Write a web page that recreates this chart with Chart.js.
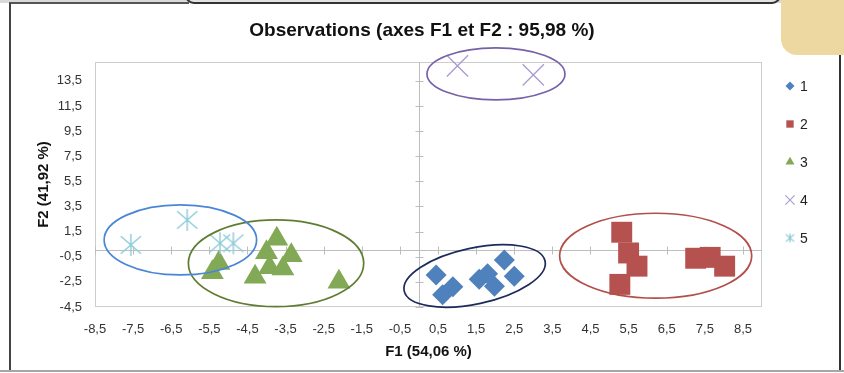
<!DOCTYPE html>
<html>
<head>
<meta charset="utf-8">
<script src="https://cdn.jsdelivr.net/npm/chart.js@4.4.1/dist/chart.umd.min.js"></script>
<style>
  html, body { margin: 0; padding: 0; background: #fff; }
  #wrap { position: relative; width: 844px; height: 373px; overflow: hidden; background: #fff; }
  #c { position: absolute; left: 0; top: 0; }
  .deco { position: absolute; box-sizing: border-box; }
</style>
</head>
<body>
<div id="wrap">
  <canvas id="c" width="844" height="373"></canvas>
  <!-- page furniture around the chart -->
  <div class="deco" style="left:0;top:0;width:790px;height:3px;background:#d9d9d9"></div>
  <div class="deco" style="left:9px;top:2px;width:180px;height:2px;background:#555"></div>
  <div class="deco" style="left:185px;top:-20px;width:596px;height:24px;border:2px solid #333;border-radius:9px;background:#e2e2e2"></div>
  <div class="deco" style="left:9px;top:3px;width:2px;height:368px;background:#444"></div>
  <div class="deco" style="left:781px;top:-16px;width:80px;height:71px;background:#eed8a1;border-radius:16px"></div>
  <div class="deco" style="left:839px;top:55px;width:2px;height:316px;background:#333"></div>
  <div class="deco" style="left:0;top:370px;width:844px;height:2px;background:#a6a6a6"></div>
</div>
<script>
// ---- data -------------------------------------------------------------
const chartTitle = 'Observations (axes F1 et F2 : 95,98 %)';
const xTitle = 'F1 (54,06 %)';
const yTitle = 'F2 (41,92 %)';
const seriesLabels = ['1', '2', '3', '4', '5'];

// factor scores (F1, F2) of the observations in each group
const g1F1 = [0.45, 0.89, 0.62, 1.58, 1.80, 1.98, 2.24, 2.50];
const g1F2 = [-1.95, -2.88, -3.52, -2.30, -1.85, -2.85, -0.75, -2.05];
const g2F1 = [5.32, 5.50, 5.72, 5.27, 7.26, 7.64, 8.02];
const g2F2 = [1.45, -0.20, -1.25, -2.70, -0.62, -0.55, -1.25];
const g3F1 = [-3.73, -4.00, -3.35, -3.92, -3.57, -4.30, -5.25, -5.42, -2.10];
const g3F2 = [0.92, -0.15, -0.40, -1.35, -1.45, -2.10, -1.00, -1.75, -2.50];
const g4F1 = [1.01, 3.00];
const g4F2 = [14.69, 13.97];
const g5F1 = [-7.56, -6.08, -5.22, -4.87];
const g5F2 = [0.44, 2.43, 0.57, 0.57];

// axis ticks
const xTicks = [-8.5, -7.5, -6.5, -5.5, -4.5, -3.5, -2.5, -1.5, -0.5, 0.5, 1.5, 2.5, 3.5, 4.5, 5.5, 6.5, 7.5, 8.5];
const yTicks = [-4.5, -2.5, -0.5, 1.5, 3.5, 5.5, 7.5, 9.5, 11.5, 13.5];

// group envelopes: centre and semi-axes in F1/F2 units, tilt in degrees
const hullCx = [1.46, 6.21, -3.75, 2.02, -6.26];
const hullCy = [-2.03, -0.42, -1.02, 14.05, 0.84];
const hullRx = [1.89, 2.52, 2.30, 1.81, 2.00];
const hullRy = [2.23, 3.38, 3.45, 2.07, 2.79];
const hullTilt = [-12, 0, 0, 0, 0];

// ---- styling ----------------------------------------------------------
const FONT = "'Liberation Sans', Arial, sans-serif";
const fmt = v => String(v).replace('.', ',');

function makeAsterisk(size, color, lw) {
  const c = document.createElement('canvas');
  c.width = size; c.height = size;
  const g = c.getContext('2d');
  const m = size / 2, h = size / 2 - 1, d = h * 0.92;
  g.strokeStyle = color; g.lineWidth = lw; g.lineCap = 'butt';
  g.beginPath();
  g.moveTo(m, m - h); g.lineTo(m, m + h);
  g.moveTo(m - d, m - d * 0.86); g.lineTo(m + d, m + d * 0.86);
  g.moveTo(m + d, m - d * 0.86); g.lineTo(m - d, m + d * 0.86);
  g.stroke();
  return c;
}

const asteriskBig = makeAsterisk(24, '#8ccbd8', 1.4);
const asteriskSmall = makeAsterisk(11, '#7fc3d2', 1.1);

const looks = [
  { pointStyle: 'rectRot', pointRadius: 10.5, backgroundColor: '#4f81bd', borderColor: '#4f81bd', borderWidth: 0 },
  { pointStyle: 'rect', pointRadius: 14.8, backgroundColor: '#b5514f', borderColor: '#b5514f', borderWidth: 0 },
  { pointStyle: 'triangle', pointRadius: 13.2, backgroundColor: '#82a955', borderColor: '#82a955', borderWidth: 0 },
  { pointStyle: 'crossRot', pointRadius: 15, backgroundColor: '#a89bd0', borderColor: '#a89bd0', borderWidth: 1.3 },
  { pointStyle: asteriskBig, pointRadius: 11, backgroundColor: '#8ccbd8', borderColor: '#8ccbd8', borderWidth: 1 }
];
const legendLooks = [
  { pointStyle: 'rectRot', radius: 4.5, color: '#4f81bd', borderWidth: 0 },
  { pointStyle: 'rect', radius: 5.2, color: '#b5514f', borderWidth: 0 },
  { pointStyle: 'triangle', radius: 5.2, color: '#82a955', borderWidth: 0 },
  { pointStyle: 'crossRot', radius: 6.5, color: '#a89bd0', borderWidth: 1.1 },
  { pointStyle: asteriskSmall, radius: 5, color: '#7fc3d2', borderWidth: 1 }
];
const hullColors = ['#1d2a5c', '#b24f4b', '#5f7d32', '#7762a8', '#4a86d6'];

const F1s = [g1F1, g2F1, g3F1, g4F1, g5F1];
const F2s = [g1F2, g2F2, g3F2, g4F2, g5F2];

const datasets = seriesLabels.map((label, i) => Object.assign({
  label,
  data: F1s[i].map((v, k) => ({ x: v, y: F2s[i][k] })),
  showLine: false,
  clip: false,
  order: seriesLabels.length - i
}, looks[i]));

// ---- plugins ----------------------------------------------------------
// plot frame plus the two axes crossing at the origin, with tick marks
const crossAxes = {
  id: 'crossAxes',
  beforeDatasetsDraw(chart) {
    const { ctx, chartArea: a, scales: { x, y } } = chart;
    ctx.save();
    ctx.strokeStyle = '#cdcdcd';
    ctx.lineWidth = 1;
    ctx.strokeRect(a.left + 0.5, a.top + 0.5, a.width - 1, a.height - 1);
    const x0 = Math.round(x.getPixelForValue(0)) + 0.5;
    const y0 = Math.round(y.getPixelForValue(0)) + 0.5;
    ctx.strokeStyle = '#bdbdbd';
    ctx.beginPath();
    ctx.moveTo(a.left, y0); ctx.lineTo(a.right, y0);
    ctx.moveTo(x0, a.top); ctx.lineTo(x0, a.bottom);
    xTicks.forEach(v => {
      const px = Math.round(x.getPixelForValue(v)) + 0.5;
      ctx.moveTo(px, y0 - 4); ctx.lineTo(px, y0 + 4);
    });
    yTicks.forEach(v => {
      const py = Math.round(y.getPixelForValue(v)) + 0.5;
      ctx.moveTo(x0 - 4, py); ctx.lineTo(x0 + 4, py);
    });
    ctx.stroke();
    ctx.restore();
  }
};

// ellipses outlining each group
const groupHulls = {
  id: 'groupHulls',
  afterDatasetsDraw(chart) {
    const { ctx, scales: { x, y } } = chart;
    ctx.save();
    ctx.lineWidth = 1.7;
    hullCx.forEach((cx, i) => {
      const px = x.getPixelForValue(cx);
      const py = y.getPixelForValue(hullCy[i]);
      const rx = Math.abs(x.getPixelForValue(cx + hullRx[i]) - px);
      const ry = Math.abs(y.getPixelForValue(hullCy[i] + hullRy[i]) - py);
      ctx.strokeStyle = hullColors[i];
      ctx.beginPath();
      ctx.ellipse(px, py, rx, ry, hullTilt[i] * Math.PI / 180, 0, Math.PI * 2);
      ctx.stroke();
    });
    ctx.restore();
  }
};

// chart heading and the series key on the right
const headingAndKey = {
  id: 'headingAndKey',
  afterDraw(chart) {
    const { ctx } = chart;
    ctx.save();
    ctx.fillStyle = '#111';
    ctx.font = `bold 19px ${FONT}`;
    ctx.textAlign = 'center';
    ctx.textBaseline = 'middle';
    ctx.fillText(chartTitle, 422, 31);

    ctx.font = `14px ${FONT}`;
    ctx.textAlign = 'left';
    seriesLabels.forEach((label, i) => {
      const cy = 86 + i * 38;
      const lk = legendLooks[i];
      ctx.fillStyle = lk.color;
      ctx.strokeStyle = lk.color;
      ctx.lineWidth = lk.borderWidth;
      Chart.helpers.drawPoint(ctx, { pointStyle: lk.pointStyle, radius: lk.radius, borderWidth: lk.borderWidth, rotation: 0 }, 790, cy);
      ctx.fillStyle = '#222';
      ctx.fillText(label, 800, cy + 1);
    });
    ctx.restore();
  }
};

// ---- chart ------------------------------------------------------------
Chart.defaults.font.family = FONT;

new Chart(document.getElementById('c'), {
  type: 'scatter',
  data: { datasets },
  plugins: [crossAxes, groupHulls, headingAndKey],
  options: {
    responsive: false,
    animation: false,
    events: [],
    layout: { padding: { left: 20, right: 82, top: 62, bottom: 10 } },
    plugins: { legend: { display: false }, tooltip: { enabled: false }, title: { display: false } },
    scales: {
      x: {
        type: 'linear', min: -8.5, max: 9,
        afterBuildTicks: s => { s.ticks = xTicks.map(v => ({ value: v })); },
        afterFit: s => { s.height = 56; },
        grid: { display: false, drawTicks: false },
        border: { display: false },
        ticks: { autoSkip: false, maxRotation: 0, minRotation: 0, padding: 15, color: '#333', font: { size: 13 }, callback: v => fmt(v) },
        title: { display: true, text: xTitle, color: '#111', font: { size: 15, weight: 'bold' }, padding: { top: 0, bottom: 2 } }
      },
      y: {
        type: 'linear', min: -4.5, max: 15,
        afterBuildTicks: s => { s.ticks = yTicks.map(v => ({ value: v })); },
        afterFit: s => { s.width = 75; },
        grid: { display: false, drawTicks: false },
        border: { display: false },
        ticks: { autoSkip: false, padding: 13, color: '#333', font: { size: 13 }, callback: v => fmt(v) },
        title: { display: true, text: yTitle, color: '#111', font: { size: 15, weight: 'bold' }, padding: { top: 15, bottom: 0 } }
      }
    }
  }
});
</script>
</body>
</html>
